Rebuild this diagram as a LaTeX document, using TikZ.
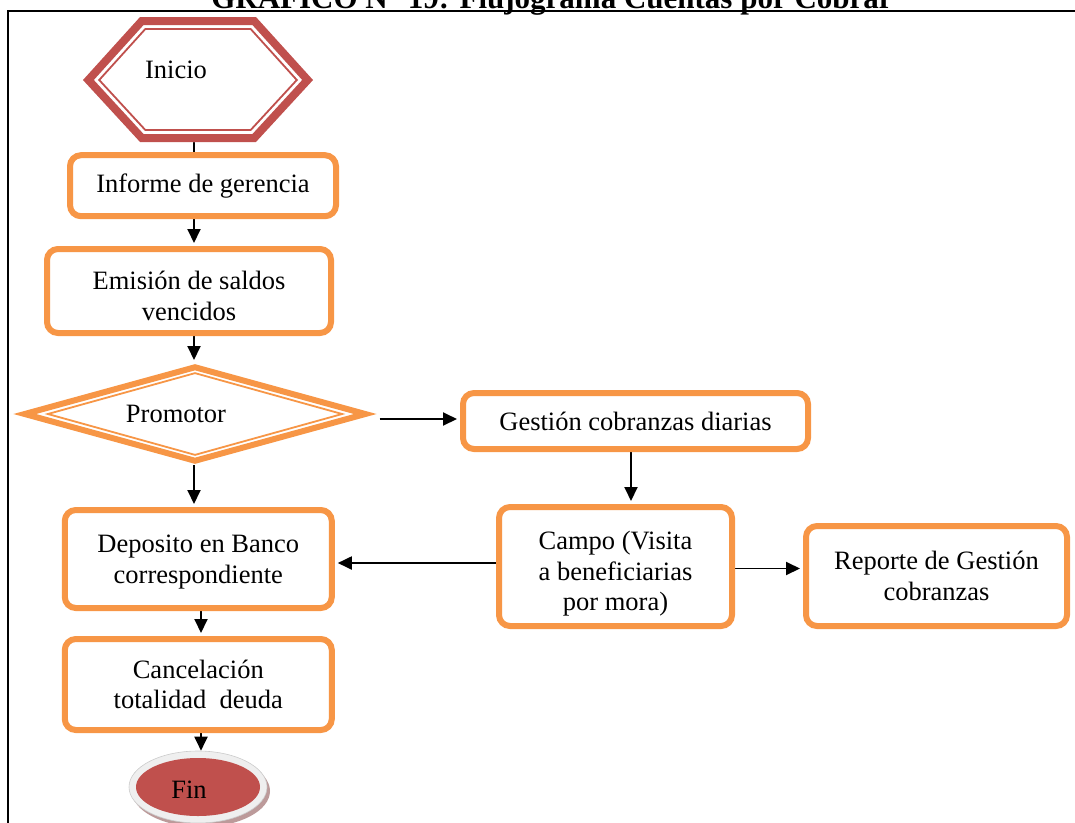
\documentclass[tikz,border=0pt]{standalone}
\usepackage{fontspec}
\setmainfont{Liberation Serif}
\usetikzlibrary{shapes.geometric,arrows.meta}
\pgfdeclarelayer{background}
\pgfsetlayers{background,main}
\definecolor{orng}{HTML}{F79646}
\definecolor{dred}{HTML}{C0504D}
\definecolor{ringgray}{HTML}{EFEFEF}
\definecolor{shad}{HTML}{BC9A9A}
\tikzset{
  box/.style={draw=orng, line width=6pt, rounded corners=11pt, fill=white, align=center, inner sep=0pt,
    font=\fontsize{26.5}{30.5}\selectfont},
  txt/.style={font=\fontsize{26.5}{30.5}\selectfont, inner sep=0pt, align=center},
  conn/.style={line width=1.9pt},
  arr/.style={conn, shorten >=3pt, -{Triangle[length=14pt,width=13pt]}},
}
\begin{document}
\begin{tikzpicture}[x=1pt,y=-1pt]
\useasboundingbox (0,0) rectangle (1075,822);
% title (cut by the page)
\node[anchor=base, inner sep=0pt, font=\bfseries\fontsize{31}{34}\selectfont] (title) at (552,8) {GRAFICO N° 19: Flujograma Cuentas por Cobrar};
% frame
\draw[line width=1.8pt] (8,830) -- (8,11) -- (1080,11);

% Inicio hexagon
\fill[white] (83,80) -- (140,17) -- (256,17) -- (313,80) -- (256,142) -- (140,142) -- cycle;
\draw[dred, line width=8pt] (88.4,80) -- (141.8,21) -- (254.2,21) -- (307.6,80) -- (254.2,138) -- (141.8,138) -- cycle;
\draw[dred, line width=1.8pt] (99.2,80) -- (145.3,29) -- (250.7,29) -- (296.8,80) -- (250.7,130) -- (145.3,130) -- cycle;
\node[txt] (inicio) at (176,70) {Inicio};
\coordinate (hexbot) at (194,142);

% process boxes
\node[box, minimum width=266pt, minimum height=61pt] (informe) at (203,185.7) {Informe de gerencia};
\node[box, minimum width=284pt, minimum height=84pt] (emision) at (189,291) {};
\node[txt] (emisiontxt) at (189,296) {Emisión de saldos\\vencidos};
\node[box, minimum width=345pt, minimum height=56pt] (gestion) at (635.5,421) {Gestión cobranzas diarias};
\node[box, minimum width=233pt, minimum height=119pt] (campo) at (615.5,566.5) {};
\node[txt] (campotxt) at (615.5,574) {Campo (Visita\\a beneficiarias\\por mora)};
\node[box, minimum width=261pt, minimum height=100pt] (reporte) at (936.5,576) {Reporte de Gestión\\cobranzas};
\node[box, minimum width=267pt, minimum height=98pt] (deposito) at (198.3,559) {};
\node[txt] (depositotxt) at (198.3,562) {Deposito en Banco\\correspondiente};
\node[box, minimum width=267pt, minimum height=91pt] (cancel) at (198.3,684.5) {Cancelación\\totalidad~~deuda};

% Promotor diamond
\node[diamond, draw=orng, fill=white, line width=6pt, inner sep=0pt, minimum width=343pt, minimum height=96pt] (promotor) at (195,414) {};
\node[diamond, draw=orng, line width=1.8pt, inner sep=0pt, minimum width=295pt, minimum height=82.5pt] (promotorin) at (195,414) {};
\node[txt] (promotortxt) at (176,414) {Promotor};

% Fin ellipse
\node[ellipse, fill=shad, minimum width=138pt, minimum height=72pt, inner sep=0pt] (finshadow) at (201,791) {};
\node[ellipse, fill=ringgray, draw=ringgray!85!black, line width=0.6pt, minimum width=138pt, minimum height=72pt, inner sep=0pt] (finring) at (198,787) {};
\node[ellipse, fill=dred, minimum width=124pt, minimum height=58pt, inner sep=0pt] (fin) at (198,787) {};
\node[txt] (fintxt) at (189,790) {Fin};

% connector guide coordinates
\coordinate (colA) at (194,0);
\coordinate (colB) at (631,0);
\coordinate (colC) at (201,0);
\coordinate (rowA) at (0,563);
\coordinate (rowB) at (0,568.5);
\coordinate (pstart) at ([shift={(10pt,-5pt)}]promotor.east);

% connectors (behind the shapes)
\begin{pgfonlayer}{background}
\draw[conn] (hexbot) -- (hexbot |- informe.north);
\draw[arr] (colA |- informe.south) -- (colA |- emision.north);
\draw[arr] (colA |- emision.south) -- (colA |- promotor.north);
\draw[arr] (pstart) -- (pstart -| gestion.west);
\draw[arr] (colA |- promotor.south) -- (colA |- deposito.north);
\draw[arr] (colB |- gestion.south) -- (colB |- campo.north);
\draw[arr] (campo.west |- rowA) -- (deposito.east |- rowA);
\draw[arr] (campo.east |- rowB) -- (reporte.west |- rowB);
\draw[arr] (colC |- deposito.south) -- (colC |- cancel.north);
\draw[arr, shorten >=0pt] (colC |- cancel.south) -- (colC |- finring.north);
\end{pgfonlayer}
\end{tikzpicture}
\end{document}
